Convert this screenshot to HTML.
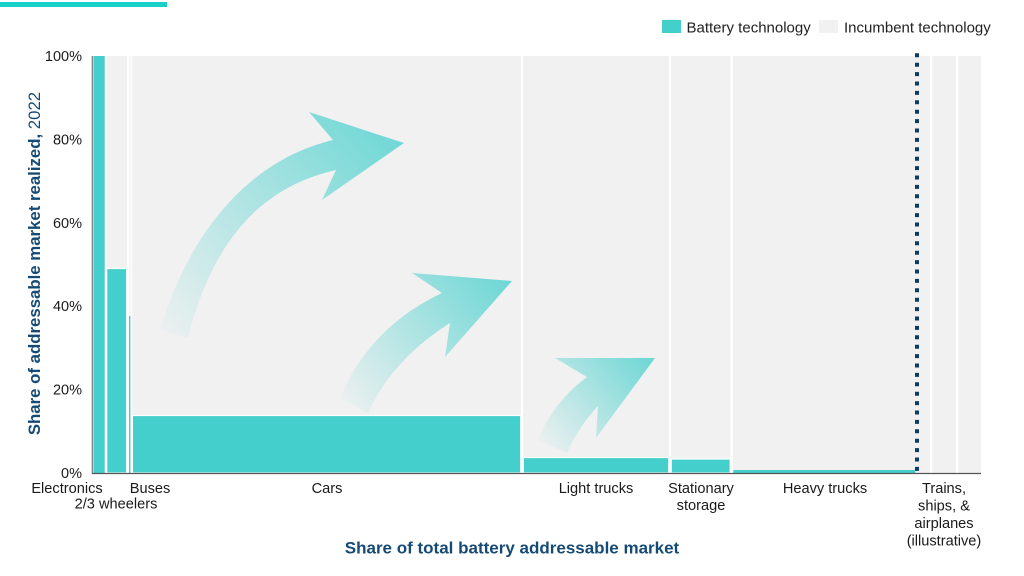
<!DOCTYPE html>
<html>
<head>
<meta charset="utf-8">
<style>
  html,body{margin:0;padding:0;background:#fff;}
  svg{display:block;}
  text{font-family:"Liberation Sans", Arial, sans-serif;}
</style>
</head>
<body>
<svg width="1024" height="576" viewBox="0 0 1024 576" xmlns="http://www.w3.org/2000/svg">
  <defs>
    <linearGradient id="g1" gradientUnits="userSpaceOnUse" x1="172" y1="336" x2="404" y2="125">
      <stop offset="0" stop-color="#45cfcc" stop-opacity="0.04"/>
      <stop offset="1" stop-color="#45cfcc" stop-opacity="0.78"/>
    </linearGradient>
    <linearGradient id="g2" gradientUnits="userSpaceOnUse" x1="350" y1="408" x2="512" y2="278">
      <stop offset="0" stop-color="#45cfcc" stop-opacity="0.04"/>
      <stop offset="1" stop-color="#45cfcc" stop-opacity="0.78"/>
    </linearGradient>
    <linearGradient id="g3" gradientUnits="userSpaceOnUse" x1="548" y1="448" x2="655" y2="358">
      <stop offset="0" stop-color="#45cfcc" stop-opacity="0.04"/>
      <stop offset="1" stop-color="#45cfcc" stop-opacity="0.78"/>
    </linearGradient>
  </defs>

  <!-- top accent bar -->
  <rect x="0" y="2" width="167" height="5" fill="#19d0c9"/>

  <!-- legend -->
  <rect x="662" y="20" width="19" height="13" fill="#45cfcc"/>
  <text x="686.5" y="32.5" font-size="15" fill="#222">Battery technology</text>
  <rect x="819" y="20" width="19" height="13" fill="#f1f1f1"/>
  <text x="844" y="32.5" font-size="15" fill="#222">Incumbent technology</text>

  <!-- plot background -->
  <rect x="93" y="56" width="888" height="417" fill="#f1f1f1"/>

  <!-- white separators -->
  <g fill="#ffffff">
    <rect x="105" y="56" width="1.6" height="417"/>
    <rect x="127" y="56" width="2.2" height="417"/>
    <rect x="130.6" y="56" width="1.6" height="417"/>
    <rect x="521" y="56" width="2" height="417"/>
    <rect x="669" y="56" width="2" height="417"/>
    <rect x="730.5" y="56" width="2.4" height="417"/>
    <rect x="930" y="56" width="2.2" height="417"/>
    <rect x="956" y="56" width="2.2" height="417"/>
  </g>

  <!-- battery bars -->
  <g fill="#45cfcc">
    <rect x="93.5" y="56" width="11.2" height="417"/>
    <rect x="106.7" y="268.5" width="20" height="204.5" stroke="#fff" stroke-width="1.2"/>
    <rect x="129" y="316" width="1.4" height="157"/>
    <rect x="132.4" y="415.5" width="388.4" height="57.5" stroke="#fff" stroke-width="1.2"/>
    <rect x="523.3" y="457.5" width="145.5" height="15.5" stroke="#fff" stroke-width="1.2"/>
    <rect x="671.2" y="459" width="59" height="14" stroke="#fff" stroke-width="1.2"/>
    <rect x="733.3" y="470" width="182" height="3"/>
  </g>

  <!-- arrows -->
  <path d="M160,330 C190,230 250,160 333,140 L309,112 L404,143 L322,200 L336,170 C270,185 215,230 188,338 Z" fill="url(#g1)"/>
  <path d="M340,398 C360,350 395,315 442,293 L412,273 L512,281 L445,357 L450,323 C415,345 385,375 368,413 Z" fill="url(#g2)"/>
  <path d="M538,440 C548,415 565,393 587,377 L555,358 L655,358 L596,438 L598,406 C585,420 575,435 567,453 Z" fill="url(#g3)"/>

  <!-- dotted line -->
  <line x1="917" y1="53.3" x2="917" y2="474.5" stroke="#0d3c61" stroke-width="4" stroke-dasharray="4 5.4"/>

  <!-- axes -->
  <line x1="92.3" y1="56" x2="92.3" y2="473.5" stroke="#777" stroke-width="1.2"/>
  <line x1="92" y1="473.5" x2="981" y2="473.5" stroke="#555" stroke-width="1.2"/>

  <!-- y tick labels -->
  <g font-size="14.5" fill="#1a1a1a" text-anchor="end">
    <text x="82" y="61">100%</text>
    <text x="82" y="144.4">80%</text>
    <text x="82" y="227.8">60%</text>
    <text x="82" y="311.2">40%</text>
    <text x="82" y="394.6">20%</text>
    <text x="82" y="478">0%</text>
  </g>

  <!-- category labels -->
  <g font-size="14.6" fill="#1a1a1a" text-anchor="middle">
    <text x="67" y="493">Electronics</text>
    <text x="116" y="508.5">2/3 wheelers</text>
    <text x="150" y="493">Buses</text>
    <text x="327" y="493">Cars</text>
    <text x="596" y="493">Light trucks</text>
    <text x="701" y="493">Stationary</text>
    <text x="701" y="510">storage</text>
    <text x="825" y="493">Heavy trucks</text>
    <text x="944" y="493">Trains,</text>
    <text x="944" y="510.5">ships, &amp;</text>
    <text x="944" y="528">airplanes</text>
    <text x="944" y="545.5">(illustrative)</text>
  </g>

  <!-- axis titles -->
  <text x="512" y="553.3" font-size="17" font-weight="bold" fill="#154a75" text-anchor="middle">Share of total battery addressable market</text>
  <text transform="translate(40,263.5) rotate(-90)" font-size="16.8" fill="#154a75" text-anchor="middle"><tspan font-weight="bold">Share of addressable market realized,</tspan> 2022</text>
</svg>
</body>
</html>
